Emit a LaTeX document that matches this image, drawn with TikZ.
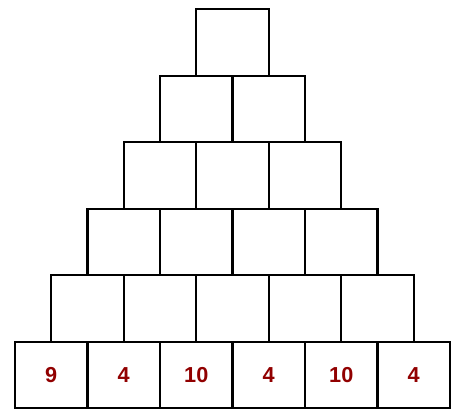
\documentclass[tikz,border=0pt]{standalone}
\usepackage{fontspec}
\setmainfont{Liberation Sans}
\usepackage{xcolor}
\usetikzlibrary{positioning}
\definecolor{numred}{RGB}{145,0,0}

\begin{document}
\begin{tikzpicture}[x=0.03cm, y=-0.03cm,
      cell/.style={draw, line width=2.1pt, minimum width=2.175cm,
                   minimum height=1.995cm, inner sep=0pt, outer sep=0pt,
                   font=\fontsize{18.5}{20}\selectfont\bfseries, text=numred}
  ]
    \useasboundingbox (0,0) rectangle (458,410);
    % bottom row
    \node[cell] (b1) at (51.25,375) {9};
    \node[cell, right=0pt of b1] (b2) {4};
    \node[cell, right=0pt of b2] (b3) {10};
    \node[cell, right=0pt of b3] (b4) {4};
    \node[cell, right=0pt of b4] (b5) {10};
    \node[cell, right=0pt of b5] (b6) {4};
    % empty rows above
    \foreach \r in {1,...,5} {
      \pgfmathtruncatemacro\n{6-\r}
      \foreach \c in {1,...,\n} {
        \node[cell] (r\r-\c) at ({232.5+(\c-(\n+1)/2)*72.5}, {375-66.5*\r}) {};
      }
    }
  \end{tikzpicture}
\end{document}
